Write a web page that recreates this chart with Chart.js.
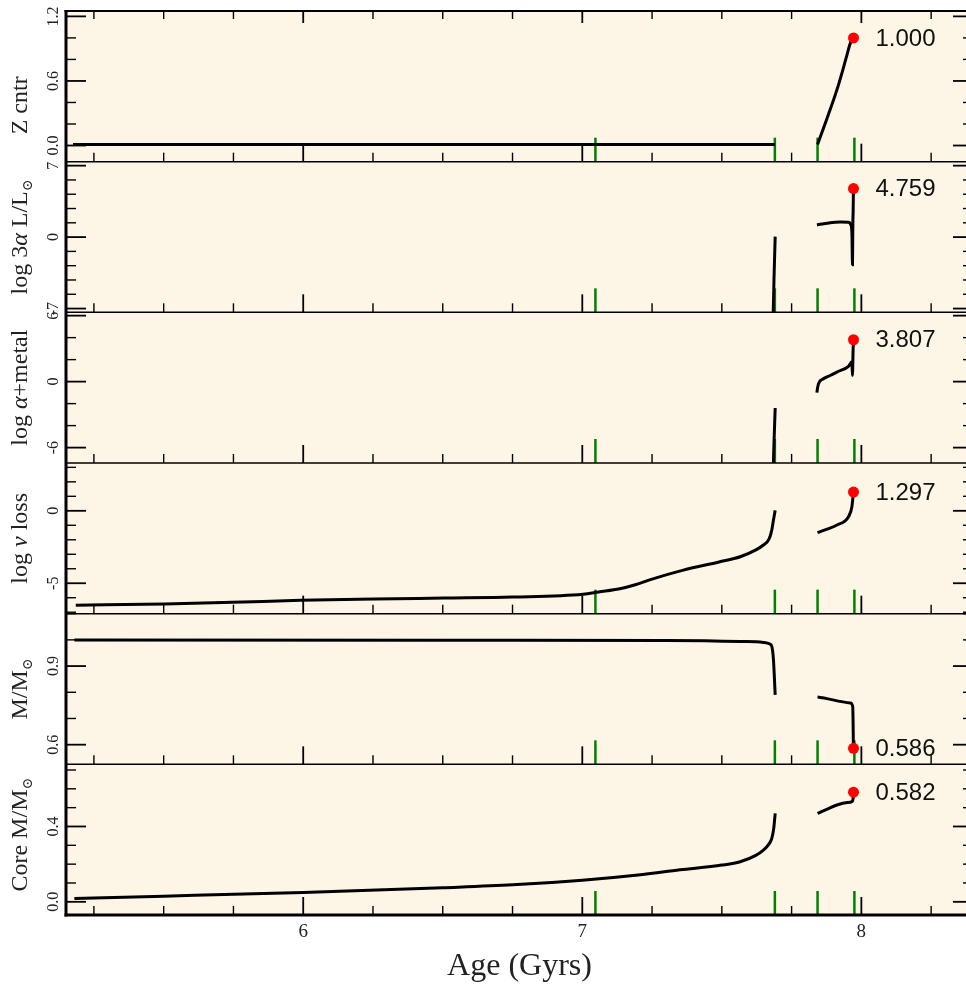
<!DOCTYPE html>
<html>
<head>
<meta charset="utf-8">
<script src="https://cdn.jsdelivr.net/npm/chart.js@4.4.1/dist/chart.umd.min.js"></script>
<style>
  html, body { margin: 0; padding: 0; background: #fff; overflow: hidden; }
  #holder { width: 980px; height: 990px; }
</style>
</head>
<body>
<div id="holder"><canvas id="evol"></canvas></div>
<script>
// ---- x axis (age, Gyrs) ----
const xMin = 5.15, xMax = 8.4;
const xMajor = [6, 7, 8];
const xMinor = [5.25, 5.5, 5.75, 6.25, 6.5, 6.75, 7.25, 7.5, 7.75, 8.25];
const markAges = [7.047, 7.690, 7.843, 7.975];   // green phase marks

// ---- Z cntr ----
const zAge = [5.175, 6.0, 7.0, 7.691, 7.77, 7.843, 7.880, 7.916, 7.945, 7.960, 7.967, 7.9718];
const zVal = [0.01, 0.01, 0.01, 0.01, null, 0.01, 0.274, 0.547, 0.809, 0.949, 0.985, 1.000];
const zMajor = [0, 0.6, 1.2], zMinor = [0.2, 0.4, 0.8, 1.0], zLabels = ['0.0', '0.6', '1.2'];

// ---- log 3alpha L/Lsun ----
const taAge = [7.683, 7.687, 7.6912, 7.77, 7.8407, 7.8765, 7.9242, 7.9539, 7.9625, 7.9661, 7.9682, 7.9690, 7.9696, 7.9705, 7.9712, 7.9718];
const taVal = [-9.0, -4.0, 0.05, null, 1.19, 1.36, 1.49, 1.46, 1.19, 0.38, -2.72, -0.27, 1.49, 2.47, 3.94, 4.759];
const taMajor = [-7, 0, 7], taMinor = [-5.6, -4.2, -2.8, -1.4, 1.4, 2.8, 4.2, 5.6], taLabels = ['-7', '0', '7'];

// ---- log alpha+metal ----
const amAge = [7.683, 7.687, 7.6912, 7.77, 7.8407, 7.8425, 7.8464, 7.8643, 7.890, 7.9123, 7.9539, 7.966, 7.968, 7.9705, 7.9718];
const amVal = [-9.0, -5.5, -2.4, null, -1.0, -0.65, -0.19, 0.26, 0.58, 0.87, 1.39, 1.8, 0.57, 2.99, 3.807];
const amMajor = [-6, 0, 6], amMinor = [-4, -2, 2, 4], amLabels = ['-6', '0', '6'];

// ---- log nu loss ----
const nuAge = [5.185, 5.503, 5.747, 5.990, 6.253, 6.506, 6.75, 7.003, 7.059, 7.134, 7.190, 7.247, 7.359, 7.490, 7.566, 7.622, 7.649, 7.669, 7.679, 7.685, 7.6912,
               7.77, 7.8428, 7.880, 7.9124, 7.9539, 7.9661, 7.9700, 7.9718];
const nuVal = [-6.52, -6.43, -6.32, -6.18, -6.09, -6.02, -5.95, -5.76, -5.60, -5.38, -5.10, -4.73, -4.11, -3.53, -3.17, -2.70, -2.36, -1.95, -1.33, -0.63, 0.03,
               null, -1.51, -1.25, -0.98, -0.41, 0.28, 0.97, 1.297];
const nuMajor = [-5, 0], nuMinor = [-7, -6, -4, -3, -2, -1, 1, 2, 3], nuLabels = ['-5', '0'];

// ---- M/Msun ----
const mAge = [5.18, 6.5, 7.3, 7.566, 7.649, 7.672, 7.679, 7.685, 7.6912, 7.77, 7.843, 7.9604, 7.9690, 7.9705, 7.9712, 7.9718];
const mVal = [0.9995, 0.999, 0.998, 0.994, 0.990, 0.984, 0.975, 0.924, 0.79, null, 0.782, 0.759, 0.746, 0.672, 0.608, 0.586];
const mMajor = [0.6, 0.9], mMinor = [0.7, 0.8, 1.0, 1.1], mLabels = ['0.6', '0.9'];

// ---- Core M/Msun ----
const cAge = [5.18, 5.5, 6.0, 6.5, 6.75, 7.0, 7.2, 7.35, 7.5, 7.566, 7.62, 7.649, 7.668, 7.679, 7.686, 7.6912,
              7.77, 7.843, 7.880, 7.9124, 7.950, 7.966, 7.9705, 7.9718];
const cVal = [0.018, 0.03, 0.05, 0.075, 0.09, 0.115, 0.143, 0.17, 0.195, 0.213, 0.245, 0.275, 0.305, 0.337, 0.39, 0.47,
              null, 0.47, 0.494, 0.514, 0.527, 0.532, 0.55, 0.582];
const cMajor = [0.0, 0.4], cMinor = [0.1, 0.2, 0.3, 0.5, 0.6, 0.7], cLabels = ['0.0', '0.4'];

// panel table built from the arrays above (top to bottom)
const panels = [
  {id: 'yZ',  age: zAge,  val: zVal,  min: -0.15, max: 1.25, major: zMajor,  minor: zMinor,  labels: zLabels,  shift: 19,
   title: [{t: 'Z cntr'}]},
  {id: 'yTa', age: taAge, val: taVal, min: -7.37, max: 7.39, major: taMajor, minor: taMinor, labels: taLabels, shift: 0,
   title: [{t: 'log 3'}, {t: 'α', it: true}, {t: ' L/L'}, {t: '⊙', sub: true}]},
  {id: 'yAm', age: amAge, val: amVal, min: -7.4,  max: 6.3,  major: amMajor, minor: amMinor, labels: amLabels, shift: 0,
   title: [{t: 'log '}, {t: 'α', it: true}, {t: '+metal'}]},
  {id: 'yNu', age: nuAge, val: nuVal, min: -7.1,  max: 3.3,  major: nuMajor, minor: nuMinor, labels: nuLabels, shift: 0,
   title: [{t: 'log '}, {t: 'ν', it: true}, {t: ' loss'}]},
  {id: 'yM',  age: mAge,  val: mVal,  min: 0.525, max: 1.10, major: mMajor,  minor: mMinor,  labels: mLabels,  shift: 0,
   title: [{t: 'M/M'}, {t: '⊙', sub: true}]},
  {id: 'yC',  age: cAge,  val: cVal,  min: -0.07, max: 0.73, major: cMajor,  minor: cMinor,  labels: cLabels,  shift: -5,
   title: [{t: 'Core M/M'}, {t: '⊙', sub: true}]}
];

const serif = '"Liberation Serif", "DejaVu Serif", serif';

const datasets = [];
const dotIndex = [];
panels.forEach(p => {
  datasets.push({
    yAxisID: p.id, xAxisID: 'x',
    data: p.age.map((a, i) => ({x: a, y: p.val[i]})),
    borderColor: '#000', borderWidth: 3, pointRadius: 0, spanGaps: false,
    cubicInterpolationMode: 'monotone', order: 2
  });
  const n = p.age.length - 1;
  dotIndex.push(datasets.length);
  datasets.push({
    yAxisID: p.id, xAxisID: 'x',
    data: [{x: p.age[n], y: p.val[n]}],
    showLine: false, pointRadius: 5.5, pointBackgroundColor: '#ff0000',
    pointBorderColor: '#ff0000', pointBorderWidth: 0, order: 1
  });
});

const scales = {
  x: {
    type: 'linear', position: 'bottom', min: xMin, max: xMax,
    afterBuildTicks: s => { s.ticks = xMajor.map(v => ({value: v})); },
    afterFit: s => { s.height = 75; },
    grid: {display: false}, border: {display: false},
    ticks: {font: {family: serif, size: 19}, color: '#222', padding: -2, maxRotation: 0, autoSkip: false},
    title: {display: true, text: 'Age (Gyrs)', font: {family: serif, size: 32}, color: '#222', padding: {top: 0, bottom: 4}}
  }
};
panels.forEach((p, i) => {
  scales[p.id] = {
    type: 'linear', position: 'left', stack: 'track', stackWeight: 1, weight: panels.length - i,
    min: p.min, max: p.max,
    afterFit: s => { s.width = 66; },
    grid: {display: false}, border: {display: false}, ticks: {display: false}
  };
});

function seg(ctx, x0, y0, x1, y1) {
  ctx.beginPath(); ctx.moveTo(x0, y0); ctx.lineTo(x1, y1); ctx.stroke();
}

// rotated (bottom-to-top) text made of pieces, with subscripts
function rotText(ctx, pieces, cx, cy, size) {
  ctx.save();
  ctx.translate(cx, cy);
  ctx.rotate(-Math.PI / 2);
  ctx.textBaseline = 'middle';
  ctx.textAlign = 'left';
  const fontOf = pc => (pc.it ? 'italic ' : '') + (pc.sub ? Math.round(size * 0.6) : size) + 'px ' + serif;
  let total = 0;
  pieces.forEach(pc => { ctx.font = fontOf(pc); total += ctx.measureText(pc.t).width; });
  let x = -total / 2;
  pieces.forEach(pc => {
    ctx.font = fontOf(pc);
    ctx.fillText(pc.t, x, pc.sub ? size * 0.3 : 0);
    x += ctx.measureText(pc.t).width;
  });
  ctx.restore();
}

const framePlugin = {
  id: 'frame',
  beforeDraw(chart) {
    const {ctx, chartArea: a} = chart;
    ctx.save();
    ctx.fillStyle = '#ffffff';
    ctx.fillRect(0, 0, chart.width, chart.height);
    ctx.fillStyle = '#fdf5e6';
    ctx.fillRect(a.left, a.top, a.right - a.left, a.bottom - a.top);
    ctx.restore();
  },
  beforeDatasetsDraw(chart) {
    const ctx = chart.ctx, xs = chart.scales.x;
    ctx.save();
    ctx.strokeStyle = '#008000';
    ctx.lineWidth = 2.5;
    panels.forEach(p => {
      const ys = chart.scales[p.id];
      markAges.forEach(a => {
        const px = xs.getPixelForValue(a);
        seg(ctx, px, ys.bottom, px, ys.bottom - 24);
      });
    });
    ctx.restore();
  },
  afterDatasetsDraw(chart) {
    const {ctx, chartArea: a} = chart;
    const xs = chart.scales.x;
    ctx.save();
    ctx.strokeStyle = '#000';
    ctx.fillStyle = '#222';
    panels.forEach((p, i) => {
      const ys = chart.scales[p.id];
      // x ticks on panel bottom (pointing up)
      ctx.lineWidth = 1.8;
      xMajor.forEach(v => { const px = xs.getPixelForValue(v); seg(ctx, px, ys.bottom, px, ys.bottom - 18); });
      ctx.lineWidth = 1.4;
      xMinor.forEach(v => { const px = xs.getPixelForValue(v); seg(ctx, px, ys.bottom, px, ys.bottom - 9); });
      if (i === 0) {
        ctx.lineWidth = 1.8;
        xMajor.forEach(v => { const px = xs.getPixelForValue(v); seg(ctx, px, ys.top, px, ys.top + 12); });
        ctx.lineWidth = 1.4;
        xMinor.forEach(v => { const px = xs.getPixelForValue(v); seg(ctx, px, ys.top, px, ys.top + 8); });
      }
      // y ticks, both sides, pointing in
      ctx.lineWidth = 1.8;
      p.major.forEach(v => {
        const py = ys.getPixelForValue(v);
        seg(ctx, a.left, py, a.left + 20, py);
        seg(ctx, a.right, py, a.right - 20, py);
      });
      ctx.lineWidth = 1.4;
      p.minor.forEach(v => {
        const py = ys.getPixelForValue(v);
        if (py < ys.top - 0.5 || py > ys.bottom + 0.5) return;
        seg(ctx, a.left, py, a.left + 10, py);
        seg(ctx, a.right, py, a.right - 10, py);
      });
      // panel separator
      if (i < panels.length - 1) {
        ctx.lineWidth = 1.5;
        seg(ctx, a.left, ys.bottom, a.right, ys.bottom);
      }
      // tick labels and title
      p.major.forEach((v, k) => {
        rotText(ctx, [{t: p.labels[k]}], 54, ys.getPixelForValue(v), 16);
      });
      rotText(ctx, p.title, 21, (ys.top + ys.bottom) / 2 + p.shift, 24);
    });
    // outer frame
    ctx.lineWidth = 2;
    seg(ctx, a.left - 1.5, a.top, a.right, a.top);
    seg(ctx, a.right, a.top, a.right, a.bottom);
    ctx.lineWidth = 3;
    seg(ctx, a.left, a.top - 1, a.left, a.bottom + 1.5);
    seg(ctx, a.left - 1.5, a.bottom, a.right, a.bottom);
    // final values next to the red dots
    ctx.font = '24px "Liberation Sans", Arial, sans-serif';
    ctx.fillStyle = '#111';
    ctx.textAlign = 'left';
    ctx.textBaseline = 'middle';
    dotIndex.forEach((di, k) => {
      const el = chart.getDatasetMeta(di).data[0];
      const p = panels[k];
      ctx.fillText(p.val[p.val.length - 1].toFixed(3), el.x + 22, el.y + 1);
    });
    ctx.restore();
  }
};

new Chart(document.getElementById('evol').getContext('2d'), {
  type: 'line',
  data: {datasets: datasets},
  options: {
    responsive: true,
    maintainAspectRatio: false,
    animation: false,
    layout: {padding: {top: 11, right: 7, bottom: 0, left: 0}},
    plugins: {legend: {display: false}, tooltip: {enabled: false}},
    scales: scales
  },
  plugins: [framePlugin]
});
</script>
</body>
</html>
